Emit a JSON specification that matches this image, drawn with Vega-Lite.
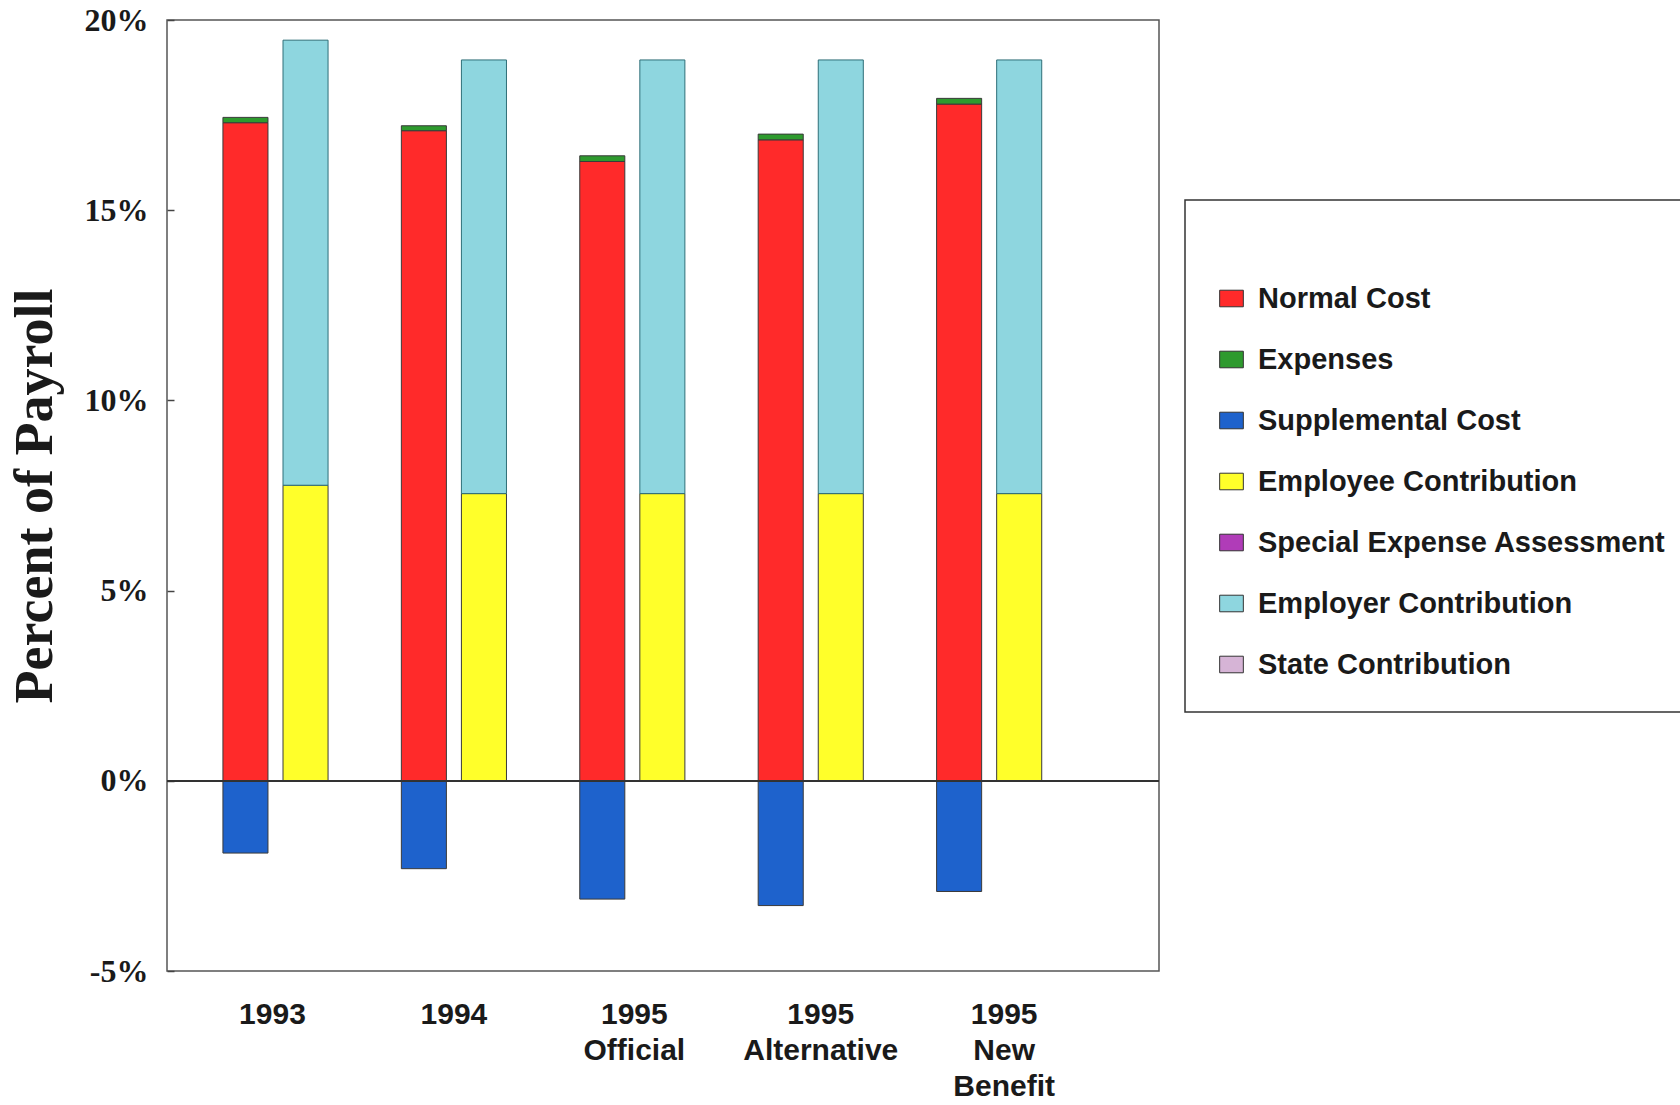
{
  "$schema": "https://vega.github.io/schema/vega-lite/v6.json",
  "width": 992,
  "height": 951,
  "autosize": {"type": "none"},
  "padding": {"left": 167, "top": 20, "right": 521, "bottom": 134},
  "background": "white",
  "config": {
    "view": {"stroke": "#555555", "strokeWidth": 1.5},
    "axis": {"domain": false, "grid": false}
  },
  "data": {
    "values": [
      {"cat": "1993", "side": "cost", "component": "Normal Cost", "order": 1, "value": 17.30},
      {"cat": "1993", "side": "cost", "component": "Expenses", "order": 2, "value": 0.14},
      {"cat": "1993", "side": "cost", "component": "Supplemental Cost", "order": 3, "value": -1.90},
      {"cat": "1993", "side": "funding", "component": "Employee Contribution", "order": 4, "value": 7.77},
      {"cat": "1993", "side": "funding", "component": "Employer Contribution", "order": 6, "value": 11.70},
      {"cat": "1994", "side": "cost", "component": "Normal Cost", "order": 1, "value": 17.09},
      {"cat": "1994", "side": "cost", "component": "Expenses", "order": 2, "value": 0.13},
      {"cat": "1994", "side": "cost", "component": "Supplemental Cost", "order": 3, "value": -2.31},
      {"cat": "1994", "side": "funding", "component": "Employee Contribution", "order": 4, "value": 7.55},
      {"cat": "1994", "side": "funding", "component": "Employer Contribution", "order": 6, "value": 11.40},
      {"cat": "1995|Official", "side": "cost", "component": "Normal Cost", "order": 1, "value": 16.28},
      {"cat": "1995|Official", "side": "cost", "component": "Expenses", "order": 2, "value": 0.15},
      {"cat": "1995|Official", "side": "cost", "component": "Supplemental Cost", "order": 3, "value": -3.11},
      {"cat": "1995|Official", "side": "funding", "component": "Employee Contribution", "order": 4, "value": 7.55},
      {"cat": "1995|Official", "side": "funding", "component": "Employer Contribution", "order": 6, "value": 11.40},
      {"cat": "1995|Alternative", "side": "cost", "component": "Normal Cost", "order": 1, "value": 16.85},
      {"cat": "1995|Alternative", "side": "cost", "component": "Expenses", "order": 2, "value": 0.15},
      {"cat": "1995|Alternative", "side": "cost", "component": "Supplemental Cost", "order": 3, "value": -3.28},
      {"cat": "1995|Alternative", "side": "funding", "component": "Employee Contribution", "order": 4, "value": 7.55},
      {"cat": "1995|Alternative", "side": "funding", "component": "Employer Contribution", "order": 6, "value": 11.40},
      {"cat": "1995|New|Benefit", "side": "cost", "component": "Normal Cost", "order": 1, "value": 17.79},
      {"cat": "1995|New|Benefit", "side": "cost", "component": "Expenses", "order": 2, "value": 0.15},
      {"cat": "1995|New|Benefit", "side": "cost", "component": "Supplemental Cost", "order": 3, "value": -2.91},
      {"cat": "1995|New|Benefit", "side": "funding", "component": "Employee Contribution", "order": 4, "value": 7.55},
      {"cat": "1995|New|Benefit", "side": "funding", "component": "Employer Contribution", "order": 6, "value": 11.40}
    ]
  },
  "layer": [
    {
      "mark": {"type": "bar", "strokeWidth": 1},
      "encoding": {
        "x": {
          "field": "cat",
          "type": "nominal",
          "sort": null,
          "scale": {"paddingInner": 0, "paddingOuter": 0.28, "align": 0.193},
          "axis": {
            "title": null,
            "ticks": false,
            "labelAngle": 0,
            "labelExpr": "split(datum.label, '|')",
            "labelFont": "Liberation Sans",
            "labelFontWeight": "bold",
            "labelFontSize": 30,
            "labelLineHeight": 36,
            "labelColor": "#1a1a1a",
            "labelPadding": 28,
            "labelBaseline": "top",
            "labelOffset": {
              "condition": [
                {"test": "datum.value == '1993'", "value": -3},
                {"test": "datum.value == '1995|Official'", "value": 2},
                {"test": "datum.value == '1995|Alternative'", "value": 10},
                {"test": "datum.value == '1995|New|Benefit'", "value": 15}
              ],
              "value": 0
            }
          }
        },
        "xOffset": {
          "field": "side",
          "type": "nominal",
          "scale": {"domain": ["cost", "funding"], "paddingInner": 0.25, "paddingOuter": 0.61}
        },
        "y": {
          "field": "value",
          "type": "quantitative",
          "stack": "zero",
          "scale": {"domain": [-5, 20], "nice": false, "zero": false},
          "axis": {
            "title": "Percent of Payroll",
            "titleFont": "Liberation Serif",
            "titleFontWeight": "bold",
            "titleFontSize": 54,
            "titleColor": "#1a1a1a",
            "titlePadding": 22,
            "values": [-5, 0, 5, 10, 15, 20],
            "labelExpr": "datum.value + '%'",
            "labelFont": "Liberation Serif",
            "labelFontWeight": "bold",
            "labelFontSize": 32,
            "labelColor": "#1a1a1a",
            "ticks": true,
            "tickSize": -7,
            "tickColor": "#444444",
            "tickWidth": 1.5,
            "labelPadding": 26
          }
        },
        "stroke": {
          "condition": {"test": "datum.component == 'Employer Contribution'", "value": "#2f6f78"},
          "value": "#3a3a3a"
        },
        "color": {
          "field": "component",
          "type": "nominal",
          "scale": {
            "domain": ["Normal Cost", "Expenses", "Supplemental Cost", "Employee Contribution", "Special Expense Assessment", "Employer Contribution", "State Contribution"],
            "range": ["#ff2a2a", "#2e9a2e", "#1e62cc", "#ffff2a", "#b03cb8", "#8ed6df", "#d6b4d6"]
          },
          "legend": {
            "orient": "none",
            "legendX": 1018,
            "legendY": 180,
            "title": " ",
            "titleFontSize": 28,
            "titlePadding": 24,
            "padding": 32,
            "strokeColor": "#333333",
            "fillColor": "white",
            "symbolType": "M-1,-0.7H1V0.7H-1Z",
            "symbolSize": 560,
            "symbolStrokeColor": "#333333",
            "symbolStrokeWidth": 1,
            "symbolOpacity": 1,
            "labelFont": "Liberation Sans",
            "labelFontWeight": "bold",
            "labelFontSize": 29,
            "labelColor": "#1a1a1a",
            "labelOffset": 12,
            "labelLimit": 600,
            "rowPadding": 31,
            "encode": {"legend": {"update": {"strokeWidth": {"value": 1.5}}}}
          }
        },
        "order": {"field": "order", "type": "quantitative"}
      }
    },
    {
      "mark": {"type": "rule", "color": "#333333", "strokeWidth": 1.5},
      "encoding": {"y": {"datum": 0}}
    }
  ]
}
